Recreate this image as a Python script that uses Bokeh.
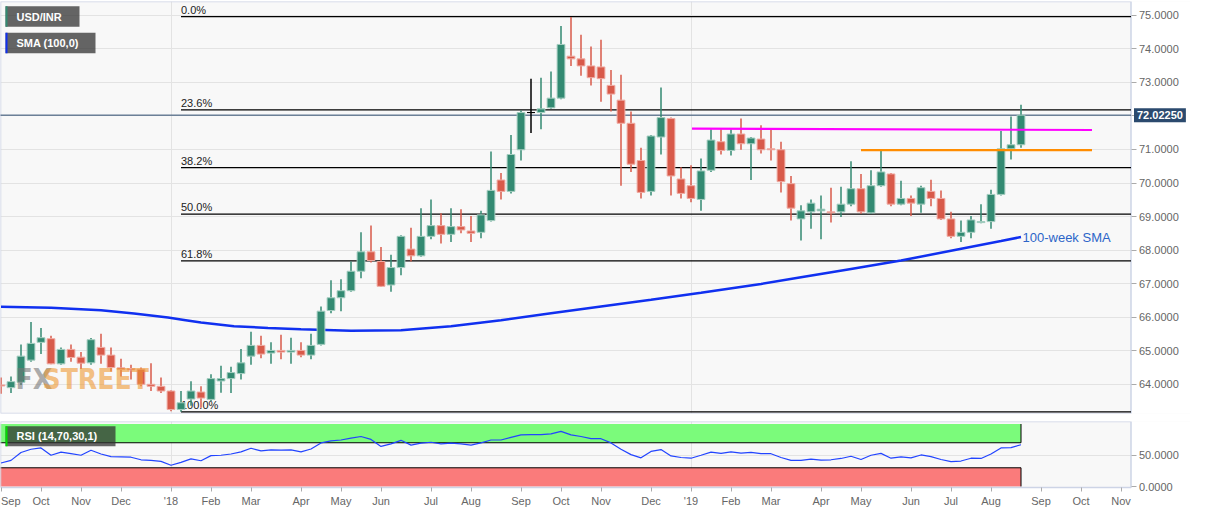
from bokeh.plotting import figure
from bokeh.models import (Range1d, FixedTicker, ColumnDataSource, Label,
                          BoxAnnotation, NumeralTickFormatter)
from bokeh.layouts import column
from bokeh.core.properties import value
from bokeh.embed import file_html
from bokeh.resources import INLINE

# ---------------- data (weekly USD/INR candles, index = week number) ----------------
opens = [63.98, 63.90, 64.06, 64.72, 65.25, 65.36, 64.61, 65.04, 64.81, 64.64,
         65.10, 64.87, 64.49, 64.47, 64.45, 64.00, 63.94, 63.80, 63.25, 63.56,
         63.77, 63.55, 64.10, 64.17, 64.32, 64.84, 65.16, 64.93, 65.01, 64.96,
         65.01, 64.87, 65.19, 66.20, 66.58, 66.79, 67.37, 67.95, 67.66, 66.96,
         67.48, 68.03, 67.83, 68.41, 68.73, 68.47, 68.70, 68.57, 68.53, 68.88,
         70.09, 69.75, 70.99, 72.10, 72.10, 72.24, 72.53, 73.78, 73.70, 73.49,
         73.46, 72.91, 72.47, 71.78, 70.67, 69.75, 71.37, 71.92, 70.12, 69.92,
         69.51, 70.38, 71.23, 70.97, 71.46, 71.17, 71.31, 71.02, 70.99, 69.98,
         68.93, 69.14, 69.17, 69.14, 69.14, 69.37, 69.83, 69.11, 69.92, 70.27,
         69.37, 69.54, 69.37, 69.75, 69.54, 68.93, 68.41, 68.53, 68.82, 68.85,
         69.66, 71.02, 71.14]
highs = [64.20, 64.23, 65.19, 65.86, 65.68, 65.45, 65.10, 65.19, 64.96, 65.38,
         65.51, 65.10, 64.76, 64.58, 64.50, 64.63, 64.20, 63.82, 63.80, 64.09,
         63.94, 64.30, 64.55, 64.52, 65.05, 65.57, 65.45, 65.25, 65.48, 65.39,
         65.25, 65.51, 66.32, 67.10, 67.13, 67.66, 68.53, 68.73, 68.09, 67.86,
         68.44, 68.67, 69.25, 69.51, 69.10, 69.25, 69.22, 69.02, 69.17, 70.94,
         70.30, 71.43, 72.16, 73.11, 73.14, 73.32, 74.68, 74.95, 74.42, 74.07,
         74.27, 73.37, 73.23, 72.13, 71.05, 71.43, 72.85, 71.95, 70.47, 70.53,
         70.73, 71.60, 71.60, 71.60, 71.92, 71.37, 71.72, 71.60, 71.23, 70.21,
         69.34, 69.51, 69.63, 69.86, 69.89, 70.65, 70.27, 70.38, 70.97, 70.30,
         70.07, 69.63, 69.92, 70.10, 69.78, 69.14, 68.88, 69.02, 69.37, 69.80,
         71.55, 71.98, 72.33]
lows = [63.72, 63.74, 63.98, 64.67, 64.90, 64.60, 64.58, 64.67, 64.46, 64.58,
        64.61, 64.38, 64.23, 64.14, 63.94, 63.80, 63.74, 63.20, 63.18, 63.36,
        63.30, 63.50, 63.75, 63.74, 64.14, 64.58, 64.78, 64.61, 64.75, 64.61,
        64.81, 64.75, 65.16, 66.12, 66.18, 66.76, 67.16, 67.63, 66.90, 66.76,
        67.25, 67.66, 67.80, 68.32, 68.20, 68.24, 68.50, 68.24, 68.35, 68.85,
        69.51, 69.69, 70.67, 71.49, 71.60, 72.21, 72.50, 73.49, 73.20, 72.91,
        72.42, 72.13, 69.92, 70.33, 69.54, 69.63, 70.85, 69.63, 69.54, 69.43,
        69.17, 70.33, 70.85, 70.82, 70.99, 70.09, 70.88, 70.67, 69.72, 68.88,
        68.29, 68.64, 68.32, 68.82, 68.99, 69.31, 69.08, 69.08, 69.89, 69.31,
        69.34, 69.02, 69.11, 69.31, 68.90, 68.35, 68.24, 68.35, 68.80, 68.64,
        69.63, 70.70, 71.05]
closes = [63.95, 64.08, 64.84, 65.22, 65.39, 64.61, 65.04, 64.80, 64.63, 65.33,
          64.87, 64.50, 64.44, 64.43, 64.00, 63.94, 63.80, 63.25, 63.45, 63.80,
          63.59, 64.17, 64.17, 64.35, 64.64, 65.16, 64.90, 65.01, 64.96, 65.01,
          64.87, 65.16, 66.18, 66.58, 66.79, 67.37, 67.95, 67.69, 66.92, 67.48,
          68.41, 67.83, 68.41, 68.73, 68.47, 68.70, 68.60, 68.50, 69.05, 69.78,
          69.75, 70.85, 72.10, 72.10, 72.21, 72.53, 74.13, 73.70, 73.49, 73.14,
          73.11, 72.65, 71.78, 70.56, 69.72, 71.40, 71.95, 70.21, 69.69, 69.54,
          70.36, 71.28, 70.97, 71.46, 71.17, 71.34, 70.99, 70.99, 70.04, 69.25,
          69.17, 69.40, 69.22, 69.11, 69.37, 69.83, 69.14, 69.92, 70.33, 69.37,
          69.54, 69.40, 69.86, 69.54, 68.93, 68.41, 68.53, 68.90, 68.85, 69.66,
          71.02, 71.14, 72.0225]

sma_idx = [0, 5, 10, 13.3, 16.7, 18.3, 20, 23.3, 26.7, 30, 35, 40, 45,
           50, 55, 60, 65, 70, 76, 80, 85, 90, 95, 100, 102]
sma_val = [66.31, 66.28, 66.21, 66.11, 65.99, 65.92, 65.84, 65.73, 65.68, 65.64,
           65.60, 65.61, 65.73, 65.91, 66.12, 66.32, 66.52, 66.73, 66.99, 67.19,
           67.44, 67.69, 67.98, 68.27, 68.39]

rsi = [37.7, 41.8, 54.5, 59.6, 61.7, 50.0, 55.0, 52.5, 50.0, 58.1,
       52.0, 47.9, 47.4, 46.9, 42.8, 41.8, 40.3, 34.1, 38.7, 44.3,
       41.3, 49.4, 50.0, 52.0, 55.5, 61.2, 57.1, 58.6, 58.1, 58.6,
       55.5, 60.1, 69.8, 72.9, 74.4, 77.5, 80.0, 75.4, 64.2, 68.3,
       73.9, 66.2, 69.3, 70.8, 68.3, 69.3, 68.3, 66.2, 69.8, 74.4,
       74.4, 78.5, 82.6, 83.1, 83.1, 84.1, 88.2, 82.6, 80.0, 76.5,
       76.5, 69.8, 59.6, 51.0, 45.9, 56.1, 59.1, 48.9, 46.4, 45.3,
       50.0, 55.0, 53.0, 55.5, 53.5, 54.5, 52.5, 52.5, 46.4, 41.8,
       41.8, 43.8, 42.3, 42.8, 44.9, 48.4, 43.3, 50.0, 53.0, 45.3,
       47.4, 45.9, 50.5, 47.9, 43.3, 39.8, 40.8, 45.3, 44.9, 52.0,
       61.7, 62.2, 66.8]

month_idx = [0, 4, 8, 12, 17, 21, 25, 30, 34, 38, 43, 47, 52, 56, 60,
             65, 69, 73, 77, 82, 86, 91, 95, 99, 104, 108, 112]
month_lbl = ["Sep", "Oct", "Nov", "Dec", "'18", "Feb", "Mar", "Apr", "May", "Jun",
             "Jul", "Aug", "Sep", "Oct", "Nov", "Dec", "'19", "Feb", "Mar", "Apr",
             "May", "Jun", "Jul", "Aug", "Sep", "Oct", "Nov"]
year_idx = [17, 69]

price_ticks = [64, 65, 66, 67, 68, 69, 70, 71, 72, 73, 74, 75]
rsi_ticks = [0, 50]

fib_levels = [74.96, 72.18, 70.46, 69.07, 67.68, 63.18]
fib_labels = ["0.0%", "23.6%", "38.2%", "50.0%", "61.8%", "100.0%"]
fib_start = 18

magenta_x = [69.1, 109.1]
magenta_y = [71.62, 71.58]
orange_x = [86, 109.1]
orange_y = [70.98, 70.98]
last_price = 72.0225
rsi_upper = [70, 100]
rsi_lower = [0, 30]

# ---------------- layout constants ----------------
GREEN = "#338a72"
RED = "#d85a4a"
FONT = "Liberation Sans"
BG = "#f8f8f8"
OUTLINE = "#cdd4e6"
GRID = "#e3e3e3"
X0, XEND, XAX = -0.05, 118.95, 113.0     # data x of frame start, canvas end, price-axis line
PY0, PY1 = 63.13, 75.41
RY0, RY1, RYAX = -38.3, 104.0, -1.5

n = len(opens)
idx = list(range(n))
cols, edges = [], []
for o, c in zip(opens, closes):
    if c > o:
        cols.append(GREEN); edges.append("#a5cec1")
    elif c < o:
        cols.append(RED); edges.append("#f0aca4")
    else:
        cols.append("#000000"); edges.append("#000000")
src = ColumnDataSource(dict(
    x=idx, h=highs, l=lows,
    top=[max(o, c) for o, c in zip(opens, closes)],
    bot=[min(o, c) for o, c in zip(opens, closes)],
    col=cols, edge=edges))

xr = Range1d(X0, XEND)


def style_axis(ax, tick_out=5, standoff=3):
    ax.major_label_text_font = FONT
    ax.major_label_text_font_size = "11px"
    ax.major_label_text_color = "#666666"
    ax.axis_line_color = None
    ax.major_tick_out = tick_out
    ax.major_tick_in = 0
    ax.major_tick_line_color = "#aaaaaa"
    ax.minor_tick_line_color = None
    ax.major_label_standoff = standoff


def legend_box(fig, l, r, t, b, stripe, text, ty):
    fig.add_layout(BoxAnnotation(left=l, right=r, top=t, bottom=b,
                                 fill_color="#333333", fill_alpha=0.75,
                                 line_color=None))
    fig.add_layout(BoxAnnotation(left=l, right=l + 0.2, top=t, bottom=b,
                                 fill_color=stripe, fill_alpha=1, line_color=None))
    fig.add_layout(Label(x=l + 1.1, y=ty, text=text, text_font=FONT,
                         text_font_size="11px", text_font_style="bold",
                         text_color="white", text_baseline="middle"))


# ---------------- main price panel ----------------
p = figure(frame_width=1190, frame_height=412, x_range=xr,
           y_range=Range1d(PY0, PY1), output_backend="svg",
           toolbar_location=None, x_axis_location=None, y_axis_location="right",
           min_border_left=0, min_border_right=0, min_border_top=1,
           min_border_bottom=4, background_fill_color=BG,
           border_fill_color="white", outline_line_color=None)

p.xgrid.ticker = FixedTicker(ticks=year_idx)
p.xgrid.grid_line_color = GRID
p.ygrid.ticker = FixedTicker(ticks=price_ticks)
p.ygrid.grid_line_color = GRID

ax = p.yaxis[0]
ax.fixed_location = XAX
ax.ticker = FixedTicker(ticks=price_ticks)
ax.formatter = NumeralTickFormatter(format="0.0000")
style_axis(ax)

# white area behind the price scale + panel outline
p.quad(left=[XAX], right=[XEND + 5], bottom=[PY0 - 5], top=[PY1 + 5],
       fill_color="white", line_color=None)
p.quad(left=[X0], right=[XAX], bottom=[PY0], top=[PY1],
       fill_color=None, line_color=OUTLINE, line_width=1.5)

# fib lines
p.segment(x0=[fib_start] * len(fib_levels), y0=fib_levels,
          x1=[XAX] * len(fib_levels), y1=fib_levels,
          line_color="black", line_width=1.3)
p.text(x=[fib_start] * len(fib_levels), y=fib_levels, text=fib_labels,
       text_font=value(FONT), text_font_size="11px", text_color="#222222",
       text_baseline="bottom", text_align="left", y_offset=-1)

# last price line
p.segment(x0=[X0 - 1], y0=[last_price], x1=[XAX], y1=[last_price],
          line_color="#2b4a6e", line_width=1)

# SMA
p.line(sma_idx, sma_val, line_color="#1030f0", line_width=2.5)

# candles
p.segment("x", "h", "x", "l", source=src, line_color="col", line_width=1.5)
p.vbar(x="x", width=0.78, top="top", bottom="bot", source=src,
       fill_color="col", line_color="edge", line_width=1)

# horizontal levels
p.line(magenta_x, magenta_y, line_color="#ff00ff", line_width=2.2)
p.line(orange_x, orange_y, line_color="#ff8c00", line_width=2.2)

p.add_layout(Label(x=102.15, y=68.38, text="100-week SMA",
                   text_font=FONT, text_font_size="13px",
                   text_color="#2c65c8", text_baseline="middle"))

# watermark
WM_FONT = "Liberation Sans Narrow, DejaVu Sans Condensed, Liberation Sans"
p.add_layout(Label(x=1.45, y=64.15, text="FX", text_font=WM_FONT,
                   text_font_style="bold", text_font_size="28px",
                   text_color="#777777", text_alpha=0.6, text_baseline="middle"))
p.add_layout(Label(x=4.15, y=64.15, text="STREET", text_font=WM_FONT,
                   text_font_style="bold", text_font_size="28px",
                   text_color="#ee9933", text_alpha=0.6, text_baseline="middle"))

legend_box(p, 0.45, 7.85, 75.265, 74.655, GREEN, "USD/INR", 74.96)
legend_box(p, 0.45, 9.45, 74.48, 73.87, "#1030f0", "SMA (100,0)", 74.175)

# price tag on the scale
p.add_layout(Label(x=XAX, y=last_price, x_offset=3, text="72.02250",
                   text_font=FONT, text_font_size="11px", text_font_style="bold",
                   text_color="white", background_fill_color="#2b4a6e",
                   text_baseline="middle", text_align="left", padding=3,
                   level="overlay"))

# ---------------- RSI panel ----------------
rs = figure(frame_width=1190, frame_height=89, x_range=xr,
            y_range=Range1d(RY0, RY1), output_backend="svg",
            toolbar_location=None, x_axis_location="below",
            y_axis_location="right",
            min_border_left=0, min_border_right=0, min_border_top=4,
            min_border_bottom=0, background_fill_color=BG,
            border_fill_color="white", outline_line_color=None)

rs.xgrid.ticker = FixedTicker(ticks=year_idx)
rs.xgrid.grid_line_color = GRID
rs.ygrid.ticker = FixedTicker(ticks=[50])
rs.ygrid.grid_line_color = GRID

rs.quad(left=[X0 - 1, XAX], right=[XEND + 5, XEND + 5],
        bottom=[RY0 - 5, RY0 - 5], top=[RYAX, RY1 + 5],
        fill_color="white", line_color=None)

last_i = idx[-1]
rs.quad(left=[-1], right=[last_i], bottom=[rsi_upper[0]], top=[rsi_upper[1]],
        fill_color="#7bfb7b", line_color=None)
rs.quad(left=[-1], right=[last_i], bottom=[rsi_lower[0]], top=[rsi_lower[1]],
        fill_color="#fa7b7b", line_color=None)
rs.segment(x0=[-1, -1, last_i, last_i], y0=[70, 30, 70, 0],
           x1=[last_i, last_i, last_i, last_i], y1=[70, 30, 100, 30],
           line_color="black", line_width=1)
rs.quad(left=[X0], right=[XAX], bottom=[RYAX], top=[RY1],
        fill_color=None, line_color=OUTLINE, line_width=1.5)

rs.line(idx, rsi, line_color="#2244ff", line_width=1.2)

ry = rs.yaxis[0]
ry.fixed_location = XAX
ry.ticker = FixedTicker(ticks=rsi_ticks)
ry.formatter = NumeralTickFormatter(format="0.0000")
style_axis(ry)

rx = rs.xaxis[0]
rx.fixed_location = RYAX
rx.ticker = FixedTicker(ticks=month_idx)
overrides = {m: lab for m, lab in zip(month_idx, month_lbl)}
overrides[month_idx[0]] = ""
rx.major_label_overrides = overrides
style_axis(rx, tick_out=4, standoff=4)

rs.add_layout(Label(x=month_idx[0], y=-14.3, text=month_lbl[0], text_font=FONT,
                    text_font_size="11px", text_color="#666666",
                    text_baseline="top", text_align="left"))

legend_box(rs, 0.45, 11.45, 96.4, 64.4, "#00dd00", "RSI (14,70,30,1)", 80.4)

layout = column(p, rs, spacing=0)
open("out.html", "w").write(file_html(layout, INLINE))
